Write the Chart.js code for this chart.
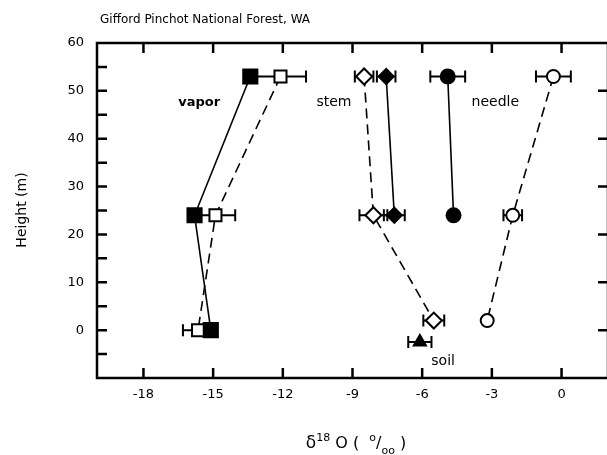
<!DOCTYPE html>
<html>
<head>
<meta charset="utf-8">
<script src="https://cdn.jsdelivr.net/npm/chart.js@4.4.1/dist/chart.umd.min.js"></script>
<style>
html, body { margin: 0; padding: 0; overflow: hidden; background: #fff; }
</style>
</head>
<body>
<canvas id="isoChart" width="620" height="455"></canvas>
<script>
// tick values
var xTickValues = [-18, -15, -12, -9, -6, -3, 0];
var yTickValues = [0, 10, 20, 30, 40, 50, 60];
var yMinorValues = [-5, 0, 5, 10, 15, 20, 25, 30, 35, 40, 45, 50, 55];
var yRightValues = [0, 10, 20, 30, 40, 50];

// vapor (squares)
var vaporHeights = [53, 24, 0];
var vaporFilled = [-13.4, -15.8, -15.1];
var vaporOpen = [-12.1, -14.9, -15.65];
var vaporOpenErr = [1.1, 0.85, 0.65];

// stem (diamonds)
var stemOpenHeights = [53, 24, 2];
var stemOpen = [-8.5, -8.1, -5.5];
var stemOpenErr = [0.4, 0.6, 0.45];
var stemFilledHeights = [53, 24];
var stemFilled = [-7.55, -7.2];
var stemFilledErr = [0.4, 0.45];

// needle (circles)
var needleFilledHeights = [53, 24];
var needleFilled = [-4.9, -4.65];
var needleFilledErr = [0.75, 0];
var needleOpenHeights = [53, 24, 2];
var needleOpen = [-0.35, -2.1, -3.2];
var needleOpenErr = [0.75, 0.4, 0];

// soil (triangle)
var soilHeights = [-2.5];
var soilX = [-6.1];
var soilErr = [0.5];

var textLabels = [
  {text: "vapor", x: -15.6, y: 47.6, bold: true},
  {text: "stem", x: -9.8, y: 47.6},
  {text: "needle", x: -2.85, y: 47.6},
  {text: "soil", x: -5.1, y: -6.6}
];

var FONT = "'DejaVu Sans', sans-serif";

function pts(xs, ys) {
  return xs.map(function (v, i) { return {x: v, y: ys[i]}; });
}

function series(xs, ys, err, style, filled, dashed, radius) {
  return {
    data: pts(xs, ys),
    errX: err,
    showLine: true,
    borderColor: "#000",
    borderWidth: 1.6,
    borderDash: dashed ? [10, 6] : [],
    pointStyle: style,
    pointRadius: radius,
    pointBackgroundColor: filled ? "#000" : "#fff",
    pointBorderColor: "#000",
    pointBorderWidth: 2
  };
}

var errorBars = {
  id: "errorBars",
  beforeDatasetsDraw: function (chart) {
    var ctx = chart.ctx, xs = chart.scales.x, ys = chart.scales.y;
    ctx.save();
    ctx.strokeStyle = "#000";
    ctx.lineWidth = 2;
    chart.data.datasets.forEach(function (ds) {
      if (!ds.errX) return;
      ds.data.forEach(function (p, i) {
        var e = ds.errX[i];
        if (!e) return;
        var x1 = xs.getPixelForValue(p.x - e), x2 = xs.getPixelForValue(p.x + e);
        var y = ys.getPixelForValue(p.y);
        ctx.beginPath();
        ctx.moveTo(x1, y); ctx.lineTo(x2, y);
        ctx.moveTo(x1, y - 6); ctx.lineTo(x1, y + 6);
        ctx.moveTo(x2, y - 6); ctx.lineTo(x2, y + 6);
        ctx.stroke();
      });
    });
    ctx.restore();
  }
};

var frame = {
  id: "frame",
  afterDraw: function (chart) {
    var ctx = chart.ctx, a = chart.chartArea, xs = chart.scales.x, ys = chart.scales.y;
    ctx.save();
    ctx.strokeStyle = "#000";
    ctx.lineWidth = 2.5;
    ctx.strokeRect(a.left, a.top, a.right - a.left, a.bottom - a.top);
    ctx.beginPath();
    xTickValues.forEach(function (v) {
      var px = xs.getPixelForValue(v);
      ctx.moveTo(px, a.bottom); ctx.lineTo(px, a.bottom - 10);
      ctx.moveTo(px, a.top); ctx.lineTo(px, a.top + 10);
    });
    yMinorValues.forEach(function (v) {
      var py = ys.getPixelForValue(v);
      ctx.moveTo(a.left, py); ctx.lineTo(a.left + 10, py);
    });
    yRightValues.forEach(function (v) {
      var py = ys.getPixelForValue(v);
      ctx.moveTo(a.right, py); ctx.lineTo(a.right - 10, py);
    });
    ctx.stroke();

    // in-plot labels
    ctx.fillStyle = "#000";
    ctx.textAlign = "center";
    ctx.textBaseline = "middle";
    textLabels.forEach(function (t) {
      ctx.font = (t.bold ? "bold 13px " : "14px ") + FONT;
      ctx.fillText(t.text, xs.getPixelForValue(t.x), ys.getPixelForValue(t.y));
    });

    // title
    ctx.textAlign = "left";
    ctx.font = "12px " + FONT;
    ctx.fillText("Gifford Pinchot National Forest, WA", 100, 20);

    // y title
    ctx.save();
    ctx.translate(22, 210);
    ctx.rotate(-Math.PI / 2);
    ctx.textAlign = "center";
    ctx.font = "14px " + FONT;
    ctx.fillText("Height (m)", 0, 0);
    ctx.restore();

    // x title: delta 18 O (permil)
    var parts = [
      {t: "\u03b4", s: 17, dy: 0},
      {t: "18", s: 11, dy: -7},
      {t: " O (  ", s: 16, dy: 0},
      {t: "o", s: 11, dy: -7},
      {t: "/", s: 16, dy: 0},
      {t: "oo", s: 11, dy: 6},
      {t: " )", s: 16, dy: 0}
    ];
    ctx.textBaseline = "alphabetic";
    var total = 0;
    parts.forEach(function (p) { ctx.font = p.s + "px " + FONT; total += ctx.measureText(p.t).width; });
    var cx = 356 - total / 2;
    parts.forEach(function (p) {
      ctx.font = p.s + "px " + FONT;
      ctx.fillText(p.t, cx, 448 + p.dy);
      cx += ctx.measureText(p.t).width;
    });
    ctx.restore();
  }
};

var isoChart = new Chart(document.getElementById("isoChart"), {
  type: "scatter",
  data: {
    datasets: [
      series(vaporFilled, vaporHeights, null, "rect", true, false, 10),
      series(vaporOpen, vaporHeights, vaporOpenErr, "rect", false, true, 8.5),
      series(stemFilled, stemFilledHeights, stemFilledErr, "rectRot", true, false, 7.5),
      series(stemOpen, stemOpenHeights, stemOpenErr, "rectRot", false, true, 8),
      series(needleFilled, needleFilledHeights, needleFilledErr, "circle", true, false, 7),
      series(needleOpen, needleOpenHeights, needleOpenErr, "circle", false, true, 6.5),
      series(soilX, soilHeights, soilErr, "triangle", true, false, 7)
    ]
  },
  options: {
    responsive: false,
    animation: false,
    layout: { padding: { top: 43, right: 6, left: 0, bottom: 0 } },
    plugins: { legend: { display: false }, tooltip: { enabled: false } },
    scales: {
      x: {
        type: "linear",
        min: -20,
        max: 2,
        afterBuildTicks: function (s) { s.ticks = xTickValues.map(function (v) { return {value: v}; }); },
        afterFit: function (s) { s.height = 77; },
        grid: { display: false },
        border: { display: false },
        ticks: { color: "#000", padding: 1, font: { family: FONT, size: 13 } }
      },
      y: {
        type: "linear",
        min: -10,
        max: 60,
        afterBuildTicks: function (s) { s.ticks = yTickValues.map(function (v) { return {value: v}; }); },
        afterFit: function (s) { s.width = 97; },
        grid: { display: false },
        border: { display: false },
        ticks: { color: "#000", padding: 5, font: { family: FONT, size: 13 } }
      }
    }
  },
  plugins: [errorBars, frame]
});
</script>
</body>
</html>
